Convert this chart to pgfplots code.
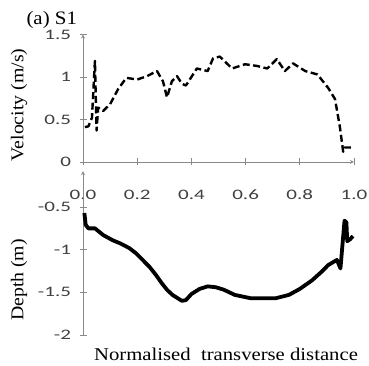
\documentclass[border=0pt]{standalone}
\usepackage{pgfplots}
\pgfplotsset{compat=1.18}
\usepackage{fontspec}
\setmainfont{Liberation Serif}[FakeStretch=1.1]
\newfontfamily\labfont{Liberation Serif}[FakeStretch=1.15]
\newfontfamily\tickfont{Carlito}[FakeStretch=1.45]
\definecolor{axgray}{HTML}{898989}
\definecolor{ticktext}{HTML}{404040}
\pgfplotstableread{
x v
0.007 0.41
0.020 0.42
0.033 0.52
0.044 1.19
0.050 0.37
0.056 0.64
0.074 0.60
0.100 0.68
0.130 0.86
0.160 0.99
0.200 0.97
0.236 1.01
0.273 1.07
0.295 0.95
0.310 0.76
0.328 0.95
0.347 1.01
0.365 0.92
0.380 0.90
0.420 1.10
0.460 1.07
0.480 1.22
0.505 1.24
0.550 1.10
0.598 1.15
0.642 1.13
0.680 1.10
0.715 1.21
0.745 1.07
0.775 1.16
0.820 1.07
0.865 1.03
0.905 0.87
0.930 0.74
0.948 0.41
0.960 0.12
0.965 0.17
0.996 0.17
}\veltable
\pgfplotstableread{
x d
0.005 -0.57
0.010 -0.71
0.020 -0.75
0.044 -0.75
0.075 -0.83
0.110 -0.89
0.140 -0.93
0.170 -0.98
0.195 -1.04
0.220 -1.12
0.245 -1.20
0.270 -1.30
0.290 -1.39
0.310 -1.47
0.330 -1.53
0.350 -1.57
0.365 -1.60
0.380 -1.59
0.400 -1.52
0.430 -1.46
0.460 -1.43
0.490 -1.44
0.520 -1.47
0.560 -1.53
0.620 -1.57
0.710 -1.57
0.760 -1.53
0.800 -1.46
0.845 -1.36
0.880 -1.26
0.905 -1.18
0.937 -1.12
0.950 -1.22
0.965 -0.66
0.972 -0.68
0.975 -0.90
0.985 -0.88
0.996 -0.84
}\deptable
\begin{document}
\begin{tikzpicture}[x=1pt,y=1pt]
\useasboundingbox (0,0) rectangle (369,366);
\pgfplotsset{
  common/.style={
    scale only axis, width=271pt,
    xmin=0, xmax=1,
    axis line style={-, draw=axgray, line width=0.8pt},
    tick style={draw=axgray, line width=0.8pt},
    tick align=outside, major tick length=7pt,
    ticklabel style={font=\tickfont\fontsize{14.5}{14.5}\selectfont, text=ticktext},
  }
}
\begin{axis}[common,
  at={(83pt,204pt)}, anchor=south west, height=127.5pt,
  ymin=0, ymax=1.5,
  axis x line=bottom, axis y line=left,
  xtick={0,0.2,0.4,0.6,0.8,1}, xticklabels={0.0,0.2,0.4,0.6,0.8,1.0},
  ytick={0,0.5,1,1.5}, yticklabels={0,0.5,1,1.5},
  xticklabel style={yshift=-21pt},
  yticklabel style={xshift=-5pt},
  clip=false]
\addplot[black, line width=2.4pt, line join=round, dash pattern=on 7pt off 3.5pt] table[x=x,y=v] {\veltable};
\end{axis}
\begin{axis}[common,
  at={(83pt,31pt)}, anchor=south west, height=163.8pt,
  ymin=-2, ymax=-0.08,
  axis x line=none, axis y line=left,
  ytick={-2,-1.5,-1,-0.5}, yticklabels={-2,-1.5,-1,-0.5},
  yticklabel style={xshift=-5pt},
  clip=false]
\addplot[black, line width=3.8pt, line join=round] table[x=x,y=d] {\deptable};
\end{axis}
\node[font=\fontsize{19}{19}\selectfont, anchor=base west] at (23,341) {(a) S1};
\node[font=\fontsize{18}{18}\selectfont, rotate=90] at (19,261) {Velocity (m/s)};
\node[font=\fontsize{18}{18}\selectfont, rotate=90] at (19,86) {Depth (m)};
\node[font=\labfont\fontsize{18}{18}\selectfont] at (226,12) {Normalised\ \ transverse distance};
\end{tikzpicture}
\end{document}
